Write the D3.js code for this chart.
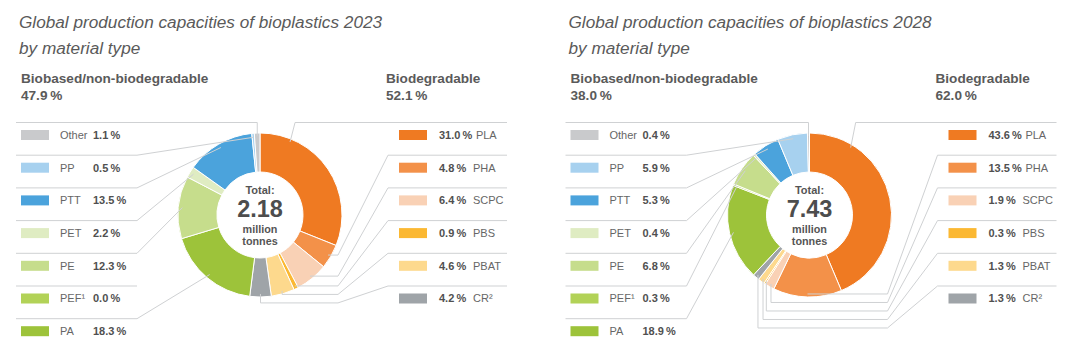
<!DOCTYPE html>
<html>
<head>
<meta charset="utf-8">
<script src="https://cdn.jsdelivr.net/npm/d3@7"></script>
<style>
  html, body { margin: 0; padding: 0; background: #fff; }
  svg { display: block; font-family: "Liberation Sans", Arial, Helvetica, sans-serif; }
</style>
</head>
<body>
<svg id="chart" width="1076" height="350"></svg>
<script>
// ---------------- DATA ----------------
const years = ["2023", "2028"];
const totals = ["2.18", "7.43"];
const biodegradableShare = [52.1, 62.0];
const nonBiodegradableShare = [47.9, 38.0];

const biodegradableCategories = ["PLA", "PHA", "SCPC", "PBS", "PBAT", "CR²"];
const biodegradable2023 = [31.0, 4.8, 6.4, 0.9, 4.6, 4.2];
const biodegradable2028 = [43.6, 13.5, 1.9, 0.3, 1.3, 1.3];

// in pie order (clockwise after the biodegradable group)
const nonBioCategories = ["PA", "PEF¹", "PE", "PET", "PTT", "PP", "Other"];
const nonBio2023 = [18.3, 0.0, 12.3, 2.2, 13.5, 0.5, 1.1];
const nonBio2028 = [18.9, 0.3, 6.8, 0.4, 5.3, 5.9, 0.4];

const categoryColors = {
  "PLA": "#ef7a22", "PHA": "#f39149", "SCPC": "#f9d1b5", "PBS": "#fbb832",
  "PBAT": "#fdd98d", "CR²": "#9fa4a8",
  "PA": "#9dc33a", "PEF¹": "#b2d257", "PE": "#c6dd8c", "PET": "#dfecc2",
  "PTT": "#4ba3dc", "PP": "#a7d1ef", "Other": "#c9cacc"
};

// ---------------- DRAW ----------------
const svg = d3.select("#chart");
const fmt = v => v.toFixed(1) + "\u2009%";
const lineColor = "#cfd1d3";
const textColor = "#5a5a5a";

function drawChart(ox, year, total, bioShare, nonShare, bioVals, nonVals) {
  const g = svg.append("g").attr("transform", `translate(${ox},0)`);
  const cx = 260, cy = 215, R = 82, r0 = 43;

  // titles
  g.append("text").attr("x", 19).attr("y", 28)
    .attr("font-size", 17.2).attr("font-style", "italic").attr("fill", textColor)
    .text("Global production capacities of bioplastics " + year);
  g.append("text").attr("x", 19).attr("y", 54)
    .attr("font-size", 17.2).attr("font-style", "italic").attr("fill", textColor)
    .text("by material type");

  // group headers
  const hdr = (x, y, t) => g.append("text").attr("x", x).attr("y", y)
    .attr("font-size", 13.6).attr("font-weight", "bold").attr("fill", textColor).text(t);
  hdr(21, 83, "Biobased/non-biodegradable");
  hdr(21, 100, fmt(nonShare));
  hdr(386, 83, "Biodegradable");
  hdr(386, 100, fmt(bioShare));

  // pie data
  const items = biodegradableCategories.map((c, i) => ({ cat: c, v: bioVals[i], group: "bio", idx: i }))
    .concat(nonBioCategories.map((c, i) => ({ cat: c, v: nonVals[i], group: "non", idx: i })));
  const pie = d3.pie().sort(null).value(d => d.v).startAngle(0).endAngle(2 * Math.PI);
  const arcs = pie(items);
  const arc = d3.arc().innerRadius(r0).outerRadius(R);

  const pg = g.append("g").attr("transform", `translate(${cx},${cy})`);
  pg.selectAll("path.slice").data(arcs.filter(d => d.data.v > 0)).join("path")
    .attr("class", "slice")
    .attr("d", arc)
    .attr("fill", d => categoryColors[d.data.cat])
    .attr("stroke", "#fff").attr("stroke-width", 1);

  const pt = (a, rad) => { const p = d3.pointRadial(a, rad); return [cx + p[0], cy + p[1]]; };
  const lines = g.append("g").attr("fill", "none").attr("stroke", lineColor).attr("stroke-width", 1);
  const line = d3.line();

  const rowStep = 32.7, row0 = 135;

  // ---- left legend (non-biodegradable), displayed top to bottom: Other ... PA
  const leftArcs = arcs.filter(d => d.data.group === "non").slice().reverse();
  const leftX0 = 16, elbowL = 137;
  leftArcs.forEach((d, i) => {
    const y = row0 + i * rowStep, sepY = y - 12.5;
    g.append("rect").attr("x", 21).attr("y", y - 5).attr("width", 28).attr("height", 10)
      .attr("fill", categoryColors[d.data.cat]);
    g.append("text").attr("x", 60).attr("y", y).attr("dy", "0.35em")
      .attr("font-size", 11).attr("fill", "#666").text(d.data.cat);
    g.append("text").attr("x", 93).attr("y", y).attr("dy", "0.35em")
      .attr("font-size", 11).attr("font-weight", "bold").attr("fill", "#505050").text(fmt(d.data.v));
    const mid = (d.startAngle + d.endAngle) / 2;
    let pts;
    if (i === 0) {
      const T = pt(mid, R - 3);
      pts = [[leftX0, sepY], [T[0], sepY], T];
    } else if (d.data.v > 0) {
      const T = pt(mid, R - 4);
      pts = [[leftX0, sepY], [elbowL, sepY], T];
    } else {
      pts = [[leftX0, sepY], [elbowL, sepY]];
    }
    lines.append("path").attr("d", line(pts));
  });

  // ---- right legend (biodegradable)
  const rightArcs = arcs.filter(d => d.data.group === "bio");
  const rightEnd = 507, elbowR = 388;
  let prevY = -Infinity;
  rightArcs.forEach((d, i) => {
    const y = row0 + i * rowStep, sepY = y - 12.5;
    g.append("rect").attr("x", 399).attr("y", y - 5).attr("width", 28).attr("height", 10)
      .attr("fill", categoryColors[d.data.cat]);
    const vt = g.append("text").attr("x", 439).attr("y", y).attr("dy", "0.35em")
      .attr("font-size", 11).attr("font-weight", "bold").attr("fill", "#505050").text(fmt(d.data.v));
    const vEnd = 439 + vt.node().getComputedTextLength();
    g.append("text").attr("x", Math.max(473, vEnd + 3.5)).attr("y", y).attr("dy", "0.35em")
      .attr("font-size", 11).attr("fill", "#666").text(d.data.cat);
    let pts;
    if (i === 0) {
      const a = d.startAngle + 0.2 * (d.endAngle - d.startAngle);
      const T = pt(a, R - 3);
      pts = [[rightEnd, sepY], [T[0] + 5, sepY], T];
    } else {
      const mid = (d.startAngle + d.endAngle) / 2;
      const T = pt(mid, R - 3);
      const Y = Math.max(T[1], prevY + 8.5);
      prevY = Y;
      const hx = Math.max(T[0], elbowR - 50);
      pts = [[rightEnd, sepY], [elbowR, sepY], [hx, Y], [T[0], Y], T];
    }
    lines.append("path").attr("d", line(pts));
  });

  // ---- centre label
  const ct = (y, size, t) => g.append("text").attr("x", cx).attr("y", y)
    .attr("text-anchor", "middle").attr("font-size", size).attr("font-weight", "bold")
    .attr("fill", "#555").text(t);
  ct(194, 11, "Total:");
  ct(217, 23.5, total).attr("fill", "#4d4d4d");
  ct(232.5, 10.8, "million");
  ct(244.5, 10.8, "tonnes");
}

drawChart(0, years[0], totals[0], biodegradableShare[0], nonBiodegradableShare[0], biodegradable2023, nonBio2023);
drawChart(549.5, years[1], totals[1], biodegradableShare[1], nonBiodegradableShare[1], biodegradable2028, nonBio2028);
</script>
</body>
</html>
